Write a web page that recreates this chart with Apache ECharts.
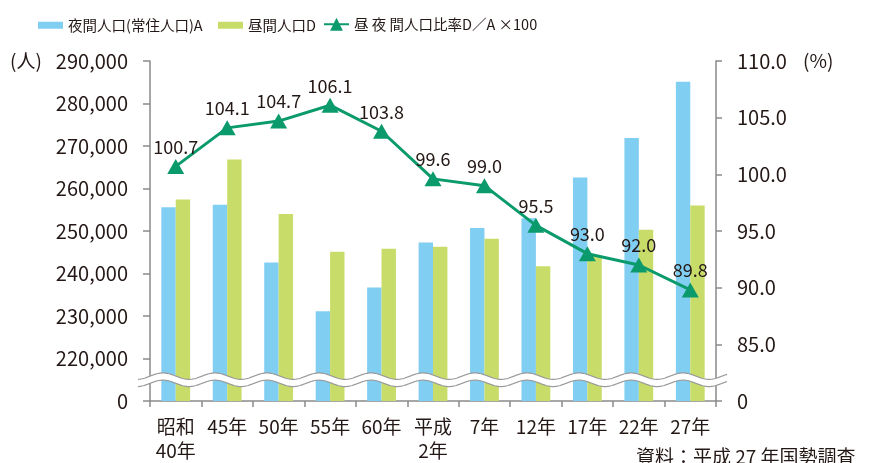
<!DOCTYPE html>
<html>
<head>
<meta charset="utf-8">
<script src="https://cdn.jsdelivr.net/npm/echarts@6/dist/echarts.min.js"></script>
<style>
  html, body { margin: 0; padding: 0; background: #fff; }
  #chart { width: 891px; height: 463px; }
</style>
</head>
<body>
<div id="chart"></div>
<script>
const years = ['昭和\n40年', '45年', '50年', '55年', '60年', '平成\n2年', '7年', '12年', '17年', '22年', '27年'];
const nightPop = [255600, 256200, 242600, 231100, 236700, 247300, 250700, 253000, 262600, 271900, 285100];
const dayPop = [257400, 266800, 254000, 245100, 245800, 246300, 248200, 241700, 244200, 250300, 256000];
const ratio = [100.7, 104.1, 104.7, 106.1, 103.8, 99.6, 99.0, 95.5, 93.0, 92.0, 89.8];

const names = ['夜間人口(常住人口)A', '昼間人口D', '昼 夜 間人口比率D／A ×100'];
const colors = { night: '#80cef1', day: '#c8dc69', ratio: '#0a9a6c', ink: '#231815', axis: '#8a8a8a' };
const font = '"Noto Sans CJK JP", "Noto Sans", sans-serif';

const chart = echarts.init(document.getElementById('chart'), null, { renderer: 'canvas' });

const legendBase = {
    orient: 'horizontal',
    top: 13,
    itemGap: 0,
    selectedMode: false,
    textStyle: { color: colors.ink, fontSize: 14.5, fontFamily: font },
};

chart.setOption({
    animation: false,
    backgroundColor: '#fff',
    grid: { left: 150, right: 175, top: 61, bottom: 61 },
    legend: [
        { ...legendBase, left: 33, data: [{ name: names[0], icon: 'rect' }], itemWidth: 25, itemHeight: 7 },
        { ...legendBase, left: 213, data: [{ name: names[1], icon: 'rect' }], itemWidth: 25, itemHeight: 7 },
        { ...legendBase, left: 318, top: 12, data: [names[2]], itemWidth: 25, itemHeight: 16 },
    ],
    xAxis: {
        type: 'category',
        data: years,
        axisLine: { lineStyle: { color: colors.axis, width: 1.5 } },
        axisTick: { show: true, length: 6, lineStyle: { color: colors.axis, width: 1.5 } },
        axisLabel: { color: colors.ink, fontSize: 19, fontFamily: font, margin: 14, lineHeight: 24, interval: 0 },
    },
    yAxis: [
        {
            type: 'value',
            min: 210000,
            max: 290000,
            interval: 10000,
            axisLine: { show: true, lineStyle: { color: colors.axis, width: 1.5 } },
            axisTick: { show: true, length: 7, lineStyle: { color: colors.axis, width: 1.5 } },
            splitLine: { show: false },
            axisLabel: {
                color: colors.ink, fontSize: 20, fontFamily: font, margin: 22,
                formatter: (v) => v === 210000 ? '0' : v.toLocaleString('en-US'),
            },
        },
        {
            type: 'value',
            min: 80,
            max: 110,
            interval: 5,
            axisLine: { show: true, lineStyle: { color: colors.axis, width: 1.5 } },
            axisTick: { show: true, length: 6, lineStyle: { color: colors.axis, width: 1.5 } },
            splitLine: { show: false },
            axisLabel: {
                color: colors.ink, fontSize: 20, fontFamily: font, margin: 21,
                formatter: (v) => v === 80 ? '0' : v.toFixed(1),
            },
        },
    ],
    series: [
        {
            name: names[0], type: 'bar', data: nightPop,
            itemStyle: { color: colors.night }, barGap: '0%', barCategoryGap: '44%',
        },
        {
            name: names[1], type: 'bar', data: dayPop,
            itemStyle: { color: colors.day }, barGap: '0%', barCategoryGap: '44%',
        },
        {
            name: names[2], type: 'line', yAxisIndex: 1, data: ratio,
            symbol: 'triangle', symbolSize: [17, 15],
            lineStyle: { color: colors.ratio, width: 3 },
            itemStyle: { color: colors.ratio },
            label: {
                show: true, position: 'top', distance: 3,
                color: colors.ink, fontSize: 18, fontFamily: font,
                formatter: (p) => p.value.toFixed(1),
            },
            z: 5,
        },
    ],
});

// axis break squiggle, placed through the axis scale
function squiggle() {
    const yc = chart.convertToPixel({ yAxisIndex: 0 }, 215000);
    const x0 = 138, x1 = 727, period = 52, amp = 3.2, half = 3.6;
    const top = [], bottom = [];
    for (let x = x0; x <= x1; x += 1) {
        const s = amp * Math.sin((x - 150) / period * Math.PI * 2);
        top.push([x, yc - half - s]);
        bottom.push([x, yc + half - s]);
    }
    return [
        { type: 'polygon', z: 100, shape: { points: top.concat(bottom.slice().reverse()) }, style: { fill: '#fff' } },
        { type: 'polyline', z: 101, shape: { points: top }, style: { stroke: '#9a9a9a', lineWidth: 1.2, fill: null } },
        { type: 'polyline', z: 101, shape: { points: bottom }, style: { stroke: '#9a9a9a', lineWidth: 1.2, fill: null } },
    ];
}

chart.setOption({
    graphic: [
        ...squiggle(),
        { type: 'text', left: 10, top: 51, style: { text: '(人)', fill: colors.ink, font: '19px ' + font } },
        { type: 'text', left: 803, top: 51, style: { text: '(%)', fill: colors.ink, font: '19px ' + font } },
        { type: 'text', left: 636, top: 447, style: { text: '資料：平成 27 年国勢調査', fill: colors.ink, font: '19px ' + font } },
    ],
});
</script>
</body>
</html>
